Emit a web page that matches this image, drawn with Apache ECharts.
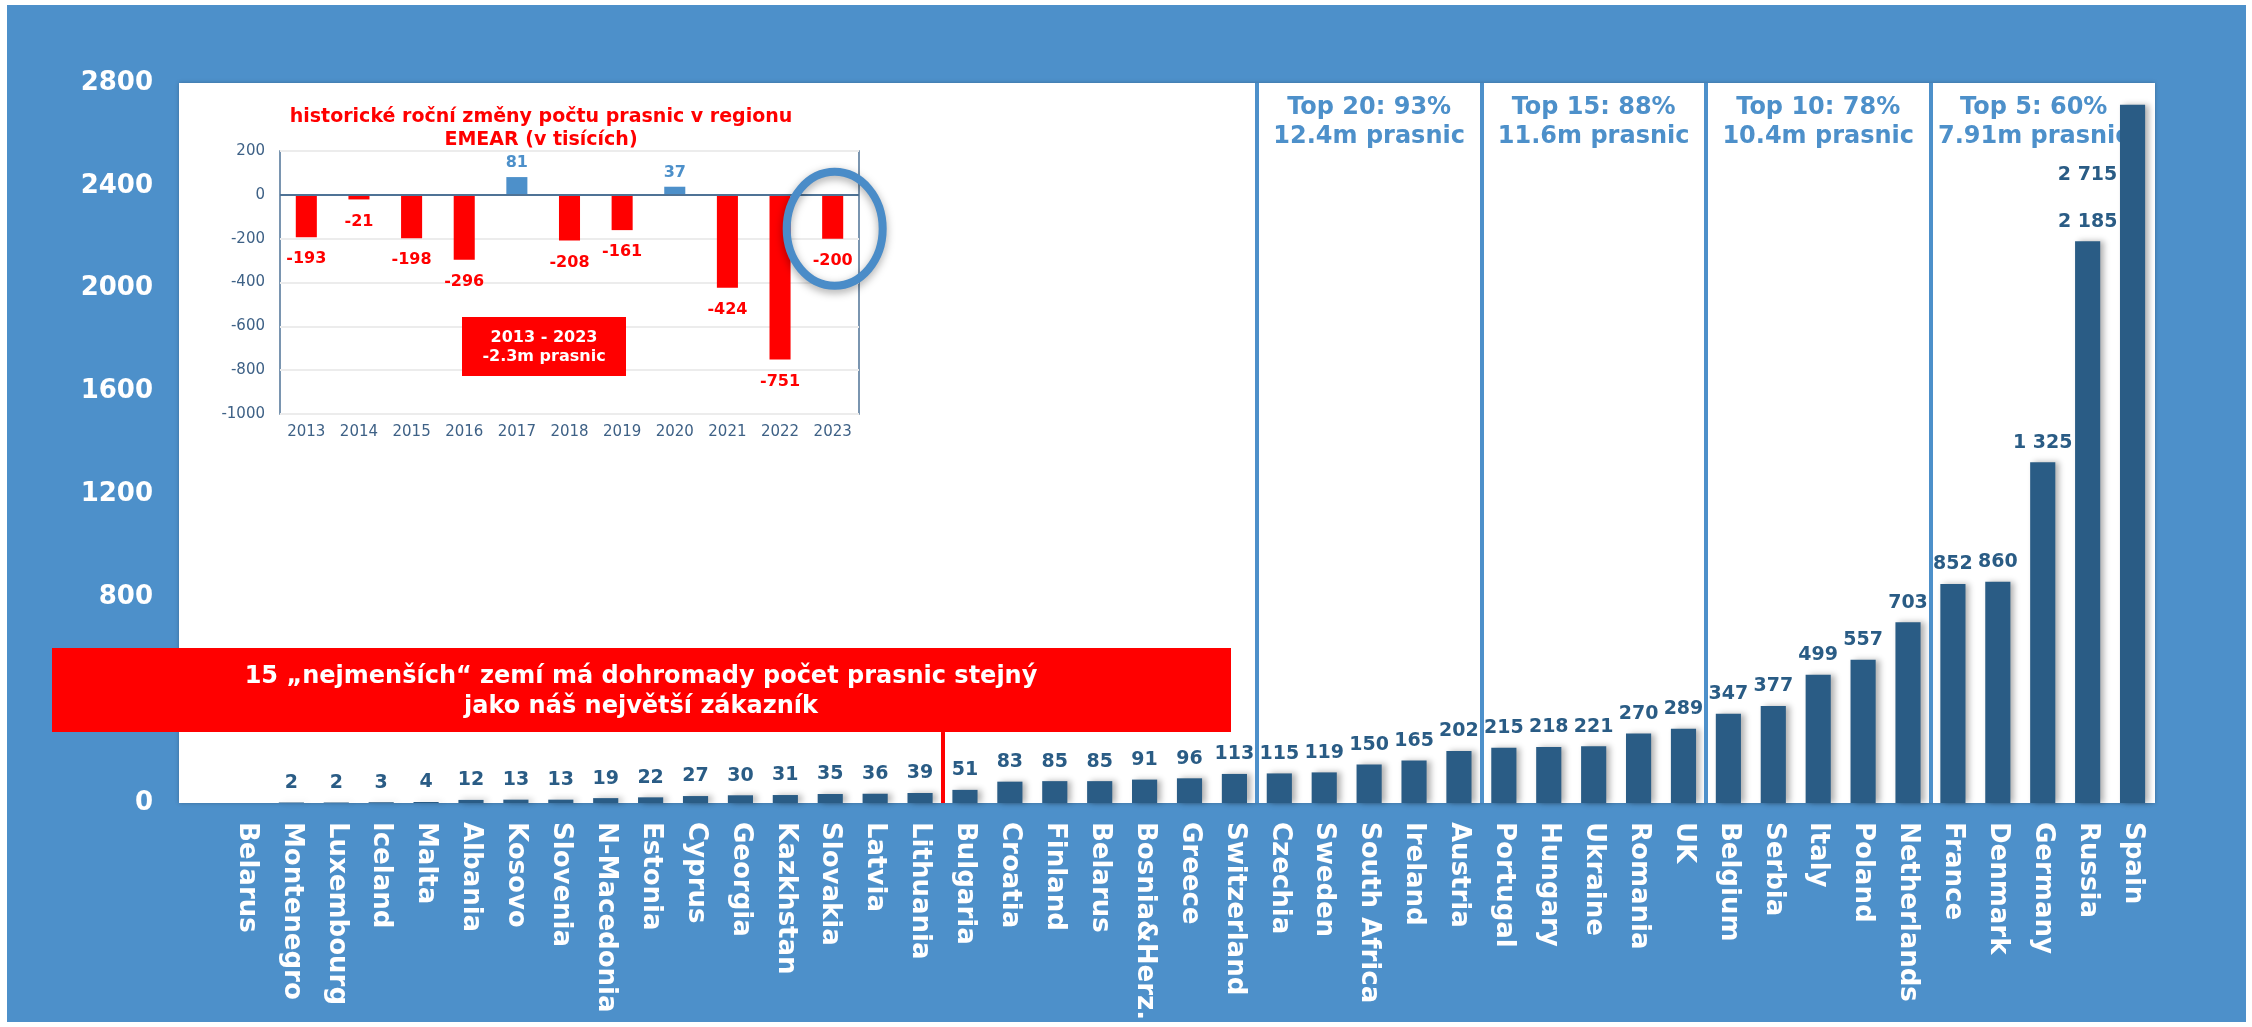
<!DOCTYPE html>
<html><head><meta charset="utf-8">
<script src="https://cdn.jsdelivr.net/npm/echarts@6/dist/echarts.min.js"></script>
<style>html,body{margin:0;padding:0;background:#fff}#c{width:2252px;height:1027px}</style>
</head><body><div id="c"></div>
<script>
// ---- data ----
const categories = ['Belarus','Montenegro','Luxembourg','Iceland','Malta','Albania','Kosovo','Slovenia','N-Macedonia','Estonia','Cyprus','Georgia','Kazkhstan','Slovakia','Latvia','Lithuania','Bulgaria','Croatia','Finland','Belarus','Bosnia&Herz.','Greece','Switzerland','Czechia','Sweden','South Africa','Ireland','Austria','Portugal','Hungary','Ukraine','Romania','UK','Belgium','Serbia','Italy','Poland','Netherlands','France','Denmark','Germany','Russia','Spain'];
const sows = [0,2,2,3,4,12,13,13,19,22,27,30,31,35,36,39,51,83,85,85,91,96,113,115,119,150,165,202,215,218,221,270,289,347,377,499,557,703,852,860,1325,2185,2715];
const years = ['2013','2014','2015','2016','2017','2018','2019','2020','2021','2022','2023'];
const changes = [-193,-21,-198,-296,81,-208,-161,37,-424,-751,-200];
const groupBounds = [22.5, 27.5, 32.5, 37.5];
const groupShares = ['Top 20: 93%','Top 15: 88%','Top 10: 78%','Top 5: 60%'];
const groupTotals = ['12.4m prasnic','11.6m prasnic','10.4m prasnic','7.91m prasnic'];
const smallestBound = 15.5;
const boxText = '15 \u201enejmen\u0161\u00edch\u201c zem\u00ed m\u00e1 dohromady po\u010det prasnic stejn\u00fd\njako n\u00e1\u0161 nejv\u011bt\u0161\u00ed z\u00e1kazn\u00edk';
const insetTitle = 'historick\u00e9 ro\u010dn\u00ed zm\u011bny po\u010dtu prasnic v regionu\nEMEAR (v tis\u00edc\u00edch)';
const insetBoxText = '2013 - 2023\n-2.3m prasnic';

// ---- styles ----
const BLUE = '#4d90ca', BAR = '#2a5c85', RED = '#ff0000', INK = '#3e6186', FRAME = '#4f7396';
const F = '"DejaVu Sans", Verdana, sans-serif';
const fmt = v => v >= 1000 ? String(Math.floor(v/1000)) + ' ' + String(v%1000).padStart(3,'0') : String(v);
const plain = v => String(v);

const chart = echarts.init(document.getElementById('c'));

const mainData = sows.map((v, i) => i === sows.length - 1 ? {value: v, label: {offset: [-45, 90]}} : v);
const insetData = changes.map(v => ({
  value: v,
  itemStyle: {color: v < 0 ? RED : BLUE},
  label: {position: v < 0 ? 'bottom' : 'top', distance: v < 0 ? 14 : 6, color: v < 0 ? RED : BLUE}
}));

const baseGraphic = [
  {type:'rect', id:'bg', z:-10, shape:{x:7,y:5,width:2239,height:1017}, style:{fill:BLUE}},
  {type:'rect', id:'plotbg', z:-9, shape:{x:179,y:83,width:1976,height:720}, style:{fill:'#fff', shadowBlur:4, shadowColor:'rgba(0,0,0,0.25)'}},
  {type:'rect', id:'redbox', z:100, shape:{x:52,y:648,width:1179,height:84}, style:{fill:RED}},
  {type:'text', id:'redtext', z:101, style:{text:boxText, x:641, y:692, align:'center', verticalAlign:'middle', textAlign:'center', textVerticalAlign:'middle', fontSize:24, fontWeight:'bold', fontFamily:F, lineHeight:30, fill:'#fff'}},
  {type:'text', id:'insettitle', z:50, style:{text:insetTitle, x:541, y:129, align:'center', verticalAlign:'middle', textAlign:'center', textVerticalAlign:'middle', fontSize:19, fontWeight:'bold', fontFamily:F, lineHeight:23, fill:RED}},
  {type:'rect', id:'insetbox', z:50, shape:{x:462,y:317,width:164,height:59}, style:{fill:RED}},
  {type:'text', id:'insetboxtext', z:51, style:{text:insetBoxText, x:544, y:347, align:'center', verticalAlign:'middle', textAlign:'center', textVerticalAlign:'middle', fontSize:16, fontWeight:'bold', fontFamily:F, lineHeight:19, fill:'#fff'}}
];

chart.setOption({
  backgroundColor:'#ffffff',
  animation:false,
  graphic: baseGraphic,
  grid:[
    {left:224, right:97, top:83, bottom:224},
    {left:280, right:1393, top:151, bottom:613, show:true, borderColor:FRAME, borderWidth:1.5, backgroundColor:'rgba(0,0,0,0)'}
  ],
  xAxis:[
    {type:'category', gridIndex:0, data:categories, axisLine:{show:false}, axisTick:{show:false}, splitLine:{show:false},
     axisLabel:{interval:0, rotate:-90, margin:19, color:'#fff', fontSize:26, fontWeight:'bold', fontFamily:F}},
    {type:'value', gridIndex:0, min:-0.5, max:42.5, show:false},
    {type:'category', gridIndex:1, data:years, axisLine:{show:false}, axisTick:{show:false},
     axisLabel:{interval:0, margin:11, color:INK, fontSize:15, fontFamily:F}}
  ],
  yAxis:[
    {type:'value', gridIndex:0, min:0, max:2800, interval:400, splitLine:{show:false}, axisLine:{show:false}, axisTick:{show:false},
     axisLabel:{margin:71, color:'#fff', fontSize:26, fontWeight:'bold', fontFamily:F, formatter:plain}},
    {type:'value', gridIndex:1, min:-1000, max:200, interval:200, splitLine:{lineStyle:{color:'#ececec', width:2}}, axisLine:{show:false}, axisTick:{show:false},
     axisLabel:{margin:15, color:INK, fontSize:15, fontFamily:F, formatter:plain}}
  ],
  series:[
    {type:'bar', xAxisIndex:0, yAxisIndex:0, data:mainData, barWidth:'56%', z:3,
     itemStyle:{color:BAR, shadowBlur:6, shadowColor:'rgba(0,0,0,0.3)', shadowOffsetX:4},
     label:{show:true, position:'top', distance:10, color:BAR, fontSize:19, fontWeight:'bold', fontFamily:F,
            formatter: p => p.value ? fmt(p.value) : ''}},
    {type:'line', xAxisIndex:1, yAxisIndex:0, data:[], silent:true,
     markLine:{silent:true, symbol:'none', label:{show:false}, animation:false,
       lineStyle:{color:BLUE, width:4, type:'solid'},
       data: groupBounds.map(b => [{coord:[b,0]},{coord:[b,2800]}]).concat([
         [{coord:[smallestBound,0], lineStyle:{color:RED, width:4, type:'solid'}},{coord:[smallestBound,276]}]
       ])}},
    {type:'bar', xAxisIndex:2, yAxisIndex:1, data:insetData, barWidth:'40%', z:4,
     label:{show:true, fontSize:16, fontWeight:'bold', fontFamily:F},
     markLine:{silent:true, symbol:'none', label:{show:false}, animation:false,
       lineStyle:{color:FRAME, width:2, type:'solid'}, data:[{yAxis:0}]}}
  ]
});

// annotations anchored through the axes
const centers = [25, 30, 35, 39.8];
const extra = groupShares.map((s, i) => ({
  type:'text', id:'top'+i, z:1,
  style:{text: s + '\n' + groupTotals[i], x: chart.convertToPixel({xAxisIndex:1}, centers[i]), y:122,
         align:'center', verticalAlign:'middle', textAlign:'center', textVerticalAlign:'middle',
         fontSize:24, fontWeight:'bold', fontFamily:F, lineHeight:29, fill:BLUE}
}));
const ec = chart.convertToPixel({xAxisIndex:2, yAxisIndex:1}, [10, -155]);
extra.push({type:'ellipse', id:'ring', z:60, shape:{cx:ec[0]+2, cy:ec[1], rx:48, ry:57},
  style:{fill:'none', stroke:'#4a8cc8', lineWidth:8, shadowBlur:8, shadowColor:'rgba(0,0,0,0.35)', shadowOffsetY:3}});
chart.setOption({graphic: baseGraphic.concat(extra)});
</script></body></html>
